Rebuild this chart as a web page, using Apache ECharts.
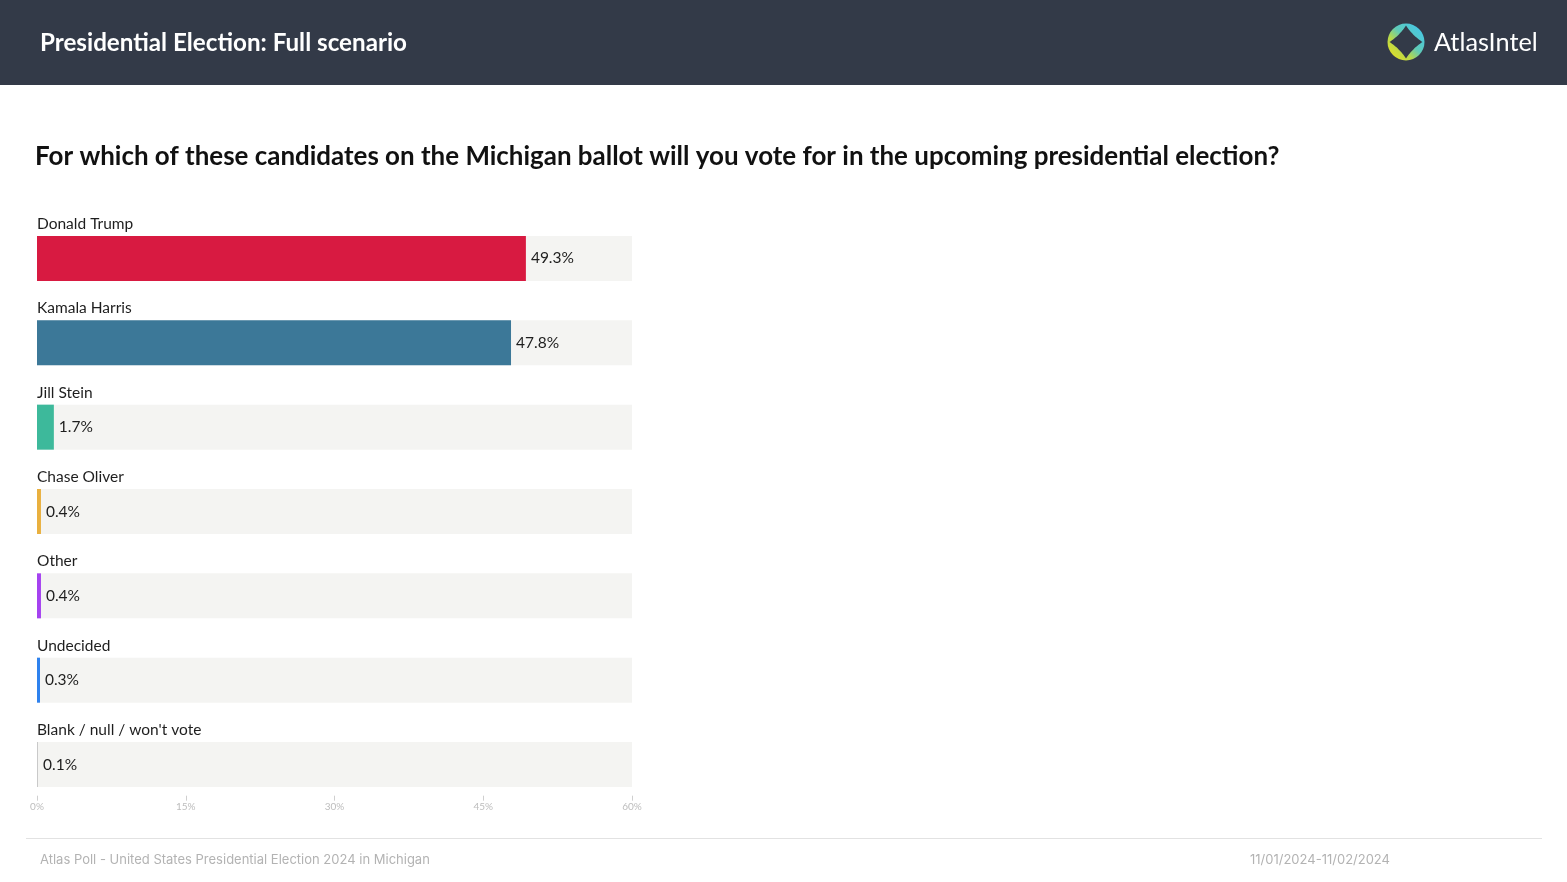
<!DOCTYPE html>
<html><head><meta charset="utf-8">
<script src="https://cdn.jsdelivr.net/npm/echarts@6/dist/echarts.min.js"></script>
<style>html,body{margin:0;padding:0;background:#fff}#c{width:1567px;height:882px}</style>
</head><body><div id="c"></div>
<script>
const categories = ['Donald Trump', 'Kamala Harris', 'Jill Stein', 'Chase Oliver', 'Other', 'Undecided', "Blank / null / won't vote"];
const values = [49.3, 47.8, 1.7, 0.4, 0.4, 0.3, 0.1];
const barColors = ['#d81a41', '#3c7898', '#3db99b', '#e9b03f', '#a542f0', '#2f82ee', '#c9c9c9'];
const axisMin = 0, axisMax = 60, axisInterval = 15;
const headerTitle = 'Presidential Election: Full scenario';
const question = 'For which of these candidates on the Michigan ballot will you vote for in the upcoming presidential election?';
const footerLeft = 'Atlas Poll - United States Presidential Election 2024 in Michigan';
const footerRight = '11/01/2024-11/02/2024';

// logo star (concave 4-point shape) built from quadratic curves
function starPoints(R, c) {
  const tips = [[0, -R], [R, 0], [0, R], [-R, 0]];
  const ctrls = [[c, -c], [c, c], [-c, c], [-c, -c]];
  const pts = [];
  for (let k = 0; k < 4; k++) {
    const a = tips[k], b = tips[(k + 1) % 4], q = ctrls[k];
    for (let s = 0; s < 16; s++) {
      const t = s / 16;
      pts.push([(1 - t) * (1 - t) * a[0] + 2 * (1 - t) * t * q[0] + t * t * b[0],
                (1 - t) * (1 - t) * a[1] + 2 * (1 - t) * t * q[1] + t * t * b[1]]);
    }
  }
  return pts;
}

const chart = echarts.init(document.getElementById('c'), null, {renderer: 'canvas'});
const W = 1567;
chart.setOption({
  animation: false,
  backgroundColor: '#ffffff',
  textStyle: {fontFamily: 'Lato'},
  grid: {left: 37, right: W - 632, top: 216.3, bottom: 75.3, containLabel: false},
  xAxis: {
    type: 'value', min: axisMin, max: axisMax, interval: axisInterval,
    position: 'bottom', offset: -11,
    axisLine: {show: false},
    axisTick: {show: true, length: 5, lineStyle: {color: '#cfcfcf', width: 1}},
    axisLabel: {margin: 6, fontSize: 10, color: '#bdbdbd', fontFamily: 'Lato', formatter: v => v + '%'},
    splitLine: {show: false}
  },
  yAxis: {
    type: 'category', data: categories, inverse: true,
    axisLine: {show: false}, axisTick: {show: false}, axisLabel: {show: false}
  },
  series: [
    {
      type: 'bar', barWidth: 45, silent: true,
      data: categories.map(() => axisMax),
      itemStyle: {color: '#f4f4f2'},
      label: {
        show: true, position: [0, -12], align: 'left', verticalAlign: 'middle',
        formatter: p => p.name, fontSize: 15.5, color: '#1e1e1e', fontFamily: 'Lato'
      },
      z: 1
    },
    {
      type: 'bar', barWidth: 45, barGap: '-100%',
      data: values.map((v, i) => ({value: v, itemStyle: {color: barColors[i]}})),
      label: {
        show: true, position: 'right', distance: 5,
        formatter: p => p.value.toFixed(1) + '%', fontSize: 15.5, color: '#1e1e1e', fontFamily: 'Lato'
      },
      z: 2
    }
  ],
  graphic: [
    {type: 'rect', shape: {x: 0, y: 0, width: W, height: 85}, style: {fill: '#333a48'}, silent: true},
    {type: 'text', x: 40, y: 43, style: {text: headerTitle, fill: '#ffffff', font: 'bold 24.2px Lato', textVerticalAlign: 'middle'}},
    {type: 'circle', shape: {cx: 1406, cy: 42, r: 18.5},
      style: {fill: {type: 'linear', x: 0, y: 1, x2: 1, y2: 0, colorStops: [
        {offset: 0, color: '#f2e21a'}, {offset: 0.35, color: '#b5d84c'}, {offset: 0.55, color: '#5fcab8'}, {offset: 1, color: '#3ec6f4'}]}}},
    {type: 'polygon', x: 1406, y: 42, shape: {points: starPoints(16.5, 6.5)}, style: {fill: '#333a48'}},
    {type: 'text', x: 1434, y: 43, style: {text: 'AtlasIntel', fill: '#ffffff', font: '25.3px Lato', textVerticalAlign: 'middle'}},
    {type: 'text', x: 35, y: 157, style: {text: question, fill: '#111111', font: 'bold 25.95px Lato', textVerticalAlign: 'middle'}},
    {type: 'line', shape: {x1: 26, y1: 838.5, x2: 1542, y2: 838.5}, style: {stroke: '#e2e2e2', lineWidth: 1}},
    {type: 'text', x: 40, y: 860, style: {text: footerLeft, fill: '#b3b3b3', font: '13px Inter', textVerticalAlign: 'middle'}},
    {type: 'text', x: 1250, y: 860, style: {text: footerRight, fill: '#b3b3b3', font: '13px Inter', textVerticalAlign: 'middle'}}
  ]
});
</script></body></html>
